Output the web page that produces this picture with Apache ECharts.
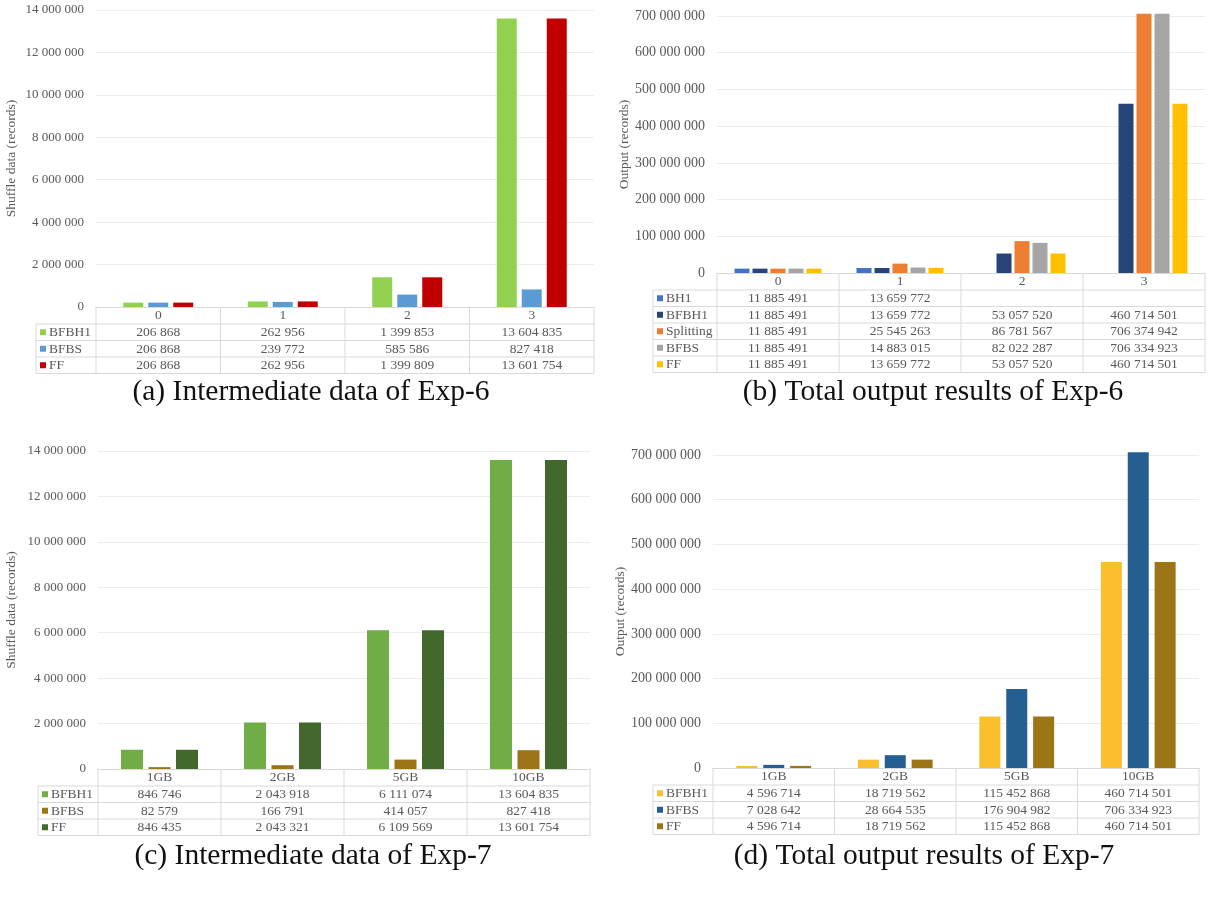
<!DOCTYPE html>
<html>
<head>
<meta charset="utf-8">
<script src="https://cdn.jsdelivr.net/npm/echarts@6/dist/echarts.min.js"></script>
<style>
  html, body { margin: 0; padding: 0; background: #fff; }
  #main { width: 1212px; height: 900px; }
</style>
</head>
<body>
<div id="main"></div>
<script>
// categories
const catsExp6 = ['0', '1', '2', '3'];
const catsExp7 = ['1GB', '2GB', '5GB', '10GB'];

// (a) intermediate data of Exp-6
const aBFBH1 = [206868, 262956, 1399853, 13604835];
const aBFBS = [206868, 239772, 585586, 827418];
const aFF = [206868, 262956, 1399809, 13601754];

// (b) total output of Exp-6 (BH1 has no value for 2 and 3)
const bBH1 = [11885491, 13659772, null, null];
const bBFBH1 = [11885491, 13659772, 53057520, 460714501];
const bSplitting = [11885491, 25545263, 86781567, 706374942];
const bBFBS = [11885491, 14883015, 82022287, 706334923];
const bFF = [11885491, 13659772, 53057520, 460714501];

// (c) intermediate data of Exp-7
const cBFBH1 = [846746, 2043918, 6111074, 13604835];
const cBFBS = [82579, 166791, 414057, 827418];
const cFF = [846435, 2043321, 6109569, 13601754];

// (d) total output of Exp-7
const dBFBH1 = [4596714, 18719562, 115452868, 460714501];
const dBFBS = [7028642, 28664535, 176904982, 706334923];
const dFF = [4596714, 18719562, 115452868, 460714501];

const FONT = 'Liberation Serif';
const GRAY = '#595959';
const LINE = '#d9d9d9';

function fmt(n) {
    if (n === null || n === undefined) return '';
    return String(n).replace(/\B(?=(\d{3})+(?!\d))/g, ' ');
}

const panels = [
    {
        cats: catsExp6, yName: 'Shuffle data (records)', max: 14000000, interval: 2000000,
        left: 96, right: 594, top: 10, axisY: 307, headerH: 17, rowH: 16.5, legendLeft: 36,
        nameGap: 78, barWidth: 20, barGap: '25%', labelSize: 13,
        caption: '(a) Intermediate data of Exp-6', capX: 311, capY: 392,
        series: [
            { name: 'BFBH1', data: aBFBH1, color: '#92d050' },
            { name: 'BFBS', data: aBFBS, color: '#5b9bd5' },
            { name: 'FF', data: aFF, color: '#c00000' }
        ]
    },
    {
        cats: catsExp6, yName: 'Output (records)', max: 700000000, interval: 100000000,
        left: 717, right: 1205, top: 16, axisY: 273, headerH: 17, rowH: 16.5, legendLeft: 653,
        nameGap: 82, barWidth: 15, barGap: '20%', labelSize: 14,
        caption: '(b) Total output results of Exp-6', capX: 933, capY: 392,
        series: [
            { name: 'BH1', data: bBH1, color: '#4472c4' },
            { name: 'BFBH1', data: bBFBH1, color: '#264478' },
            { name: 'Splitting', data: bSplitting, color: '#ed7d31' },
            { name: 'BFBS', data: bBFBS, color: '#a5a5a5' },
            { name: 'FF', data: bFF, color: '#ffc000' }
        ]
    },
    {
        cats: catsExp7, yName: 'Shuffle data (records)', max: 14000000, interval: 2000000,
        left: 98, right: 590, top: 451, axisY: 769, headerH: 17, rowH: 16.5, legendLeft: 38,
        nameGap: 80, barWidth: 22, barGap: '25%', labelSize: 13,
        caption: '(c) Intermediate data of Exp-7', capX: 313, capY: 856,
        series: [
            { name: 'BFBH1', data: cBFBH1, color: '#70ad47' },
            { name: 'BFBS', data: cBFBS, color: '#9e7418' },
            { name: 'FF', data: cFF, color: '#43682b' }
        ]
    },
    {
        cats: catsExp7, yName: 'Output (records)', max: 700000000, interval: 100000000,
        left: 713, right: 1199, top: 455, axisY: 768, headerH: 17, rowH: 16.5, legendLeft: 653,
        nameGap: 84, barWidth: 21, barGap: '28%', labelSize: 14,
        caption: '(d) Total output results of Exp-7', capX: 924, capY: 856,
        series: [
            { name: 'BFBH1', data: dBFBH1, color: '#fbbe2c' },
            { name: 'BFBS', data: dBFBS, color: '#255e91' },
            { name: 'FF', data: dFF, color: '#9c7516' }
        ]
    }
];

let grids = [], xAxes = [], yAxes = [], series = [], graphic = [];

function hline(x1, x2, y) {
    graphic.push({ type: 'line', silent: true, shape: { x1: x1, y1: y, x2: x2, y2: y }, style: { stroke: LINE, lineWidth: 1 } });
}
function vline(x, y1, y2) {
    graphic.push({ type: 'line', silent: true, shape: { x1: x, y1: y1, x2: x, y2: y2 }, style: { stroke: LINE, lineWidth: 1 } });
}
function text(str, x, y, align, size, color) {
    graphic.push({
        type: 'text', silent: true,
        style: { text: str, x: x, y: y, textAlign: align, textVerticalAlign: 'middle', fontFamily: FONT, fontSize: size, fill: color }
    });
}

panels.forEach(function (p, i) {
    const width = p.right - p.left;
    grids.push({ left: p.left, top: p.top, width: width, height: p.axisY - p.top });
    xAxes.push({
        type: 'category', gridIndex: i, data: p.cats,
        axisLine: { lineStyle: { color: LINE } },
        axisTick: { show: false },
        axisLabel: { margin: p.headerH / 2, verticalAlign: 'middle', color: GRAY, fontFamily: FONT, fontSize: 13.5 }
    });
    yAxes.push({
        type: 'value', gridIndex: i, min: 0, max: p.max, interval: p.interval,
        name: p.yName, nameLocation: 'middle', nameGap: p.nameGap, nameRotate: 90,
        nameTextStyle: { color: GRAY, fontFamily: FONT, fontSize: 13.5 },
        axisLabel: { color: GRAY, fontFamily: FONT, fontSize: p.labelSize, margin: 12, formatter: fmt },
        splitLine: { lineStyle: { color: '#ececec' } }
    });
    p.series.forEach(function (s) {
        series.push({
            type: 'bar', name: s.name, data: s.data, xAxisIndex: i, yAxisIndex: i,
            barWidth: p.barWidth, barGap: p.barGap, clip: false,
            itemStyle: { color: s.color }
        });
    });

    // data table under the axis
    const colW = width / p.cats.length;
    const rowsTop = p.axisY + p.headerH;
    const bottom = rowsTop + p.rowH * p.series.length;
    for (let c = 0; c <= p.cats.length; c++) vline(p.left + c * colW, p.axisY, bottom);
    vline(p.legendLeft, rowsTop, bottom);
    for (let r = 0; r <= p.series.length; r++) hline(p.legendLeft, p.right, rowsTop + r * p.rowH);
    p.series.forEach(function (s, r) {
        const cy = rowsTop + (r + 0.5) * p.rowH;
        graphic.push({ type: 'rect', silent: true, shape: { x: p.legendLeft + 4, y: cy - 3, width: 6, height: 6 }, style: { fill: s.color } });
        text(s.name, p.legendLeft + 13, cy + 0.5, 'left', 13.5, GRAY);
        s.data.forEach(function (v, c) {
            text(fmt(v), p.left + (c + 0.5) * colW, cy + 0.5, 'center', 13.5, GRAY);
        });
    });

    // caption
    text(p.caption, p.capX, p.capY, 'center', 29.5, '#111');
});

const chart = echarts.init(document.getElementById('main'));
chart.setOption({
    animation: false,
    textStyle: { fontFamily: FONT },
    grid: grids,
    xAxis: xAxes,
    yAxis: yAxes,
    series: series,
    graphic: graphic
});
</script>
</body>
</html>
